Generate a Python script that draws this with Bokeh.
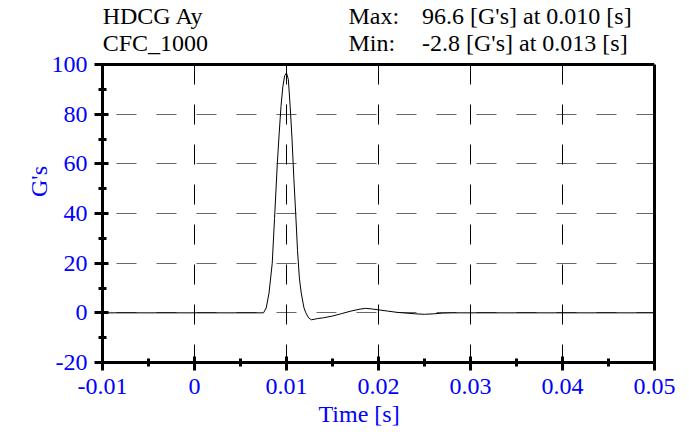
from bokeh.plotting import figure
from bokeh.models import Label, FixedTicker, Range1d, LinearAxis, Span, Title
from bokeh.embed import file_html
from bokeh.resources import INLINE

# ---- data ----
time_s = [-0.0100, 0.0075, 0.0078, 0.0081, 0.00845, 0.0087, 0.0090, 0.0092, 0.0094,
          0.0096, 0.0098, 0.0100, 0.0102, 0.0104, 0.0106, 0.0108, 0.0110, 0.0112,
          0.0114, 0.0116, 0.0119, 0.0121, 0.0124, 0.0127, 0.0130, 0.0134, 0.0140,
          0.0150, 0.0160, 0.0170, 0.0180, 0.0186, 0.0192, 0.0200, 0.0210, 0.0220,
          0.0230, 0.0240, 0.0250, 0.0260, 0.0270, 0.0280, 0.0500]
accel_g = [0.0, 0.0, 2.0, 8.0, 20.0, 38.0, 60.0, 72.0, 83.0,
           91.0, 95.5, 96.6, 94.0, 83.0, 70.0, 54.0, 40.0, 25.0,
           14.0, 8.0, 2.0, 0.0, -2.0, -2.8, -2.6, -2.3, -2.0,
           -1.3, -0.3, 0.7, 1.5, 1.8, 1.6, 1.2, 0.7, 0.2,
           -0.1, -0.4, -0.6, -0.4, -0.1, 0.0, 0.0]

x_ticks = [-0.01, 0, 0.01, 0.02, 0.03, 0.04, 0.05]
x_tick_labels = ["-0.01", "0", "0.01", "0.02", "0.03", "0.04", "0.05"]
x_minor = [-0.005, 0.005, 0.015, 0.025, 0.035, 0.045]
y_ticks = [-20, 0, 20, 40, 60, 80, 100]
y_tick_labels = ["-20", "0", "20", "40", "60", "80", "100"]
y_minor = [-10, 10, 30, 50, 70, 90]

header_left = ["HDCG Ay", "CFC_1000"]
header_keys = ["Max:", "Min:"]
header_vals = ["96.6 [G's] at 0.010 [s]", "-2.8 [G's] at 0.013 [s]"]
x_title = "Time [s]"
y_title = "G's"

# ---- layout ----
W, H = 689, 436
L, R, B = 102, 35, 74
BOX_TOP = 64                      # pixel row of the y = 100 border
X0, X1, Y0, Y1 = -0.01, 0.05, -20, 100
FW, FH = W - L - R, H - B         # frame reaches the top of the canvas
Y_TOP = Y1 + BOX_TOP / (FH - BOX_TOP) * (Y1 - Y0)
FONT = "Liberation Serif"
BLUE = "#0000FF"

def dx(px):
    return X0 + (px - L) / FW * (X1 - X0)

def dy(py):
    return Y_TOP - py / FH * (Y_TOP - Y0)

p = figure(width=W, height=H, x_range=Range1d(X0, X1), y_range=Range1d(Y0, Y_TOP),
           output_backend="svg", toolbar_location=None,
           min_border_left=L, min_border_right=R, min_border_top=0, min_border_bottom=B)
p.background_fill_color = "white"
p.border_fill_color = "white"
p.outline_line_color = None

p.xaxis.ticker = FixedTicker(ticks=x_ticks, minor_ticks=x_minor)
p.yaxis.ticker = FixedTicker(ticks=y_ticks, minor_ticks=y_minor)
p.xaxis.major_label_overrides = dict(zip(x_ticks, x_tick_labels))
p.yaxis.major_label_overrides = dict(zip(y_ticks, y_tick_labels))
p.yaxis.bounds = (Y0, Y1)

for ax in (p.xaxis, p.yaxis):
    ax.axis_line_color = "black"
    ax.axis_line_width = 3
    ax.major_tick_line_color = "black"
    ax.major_tick_line_width = 3
    ax.minor_tick_line_color = "black"
    ax.minor_tick_line_width = 3
    ax.major_tick_in = 6
    ax.major_tick_out = 8
    ax.minor_tick_in = 4
    ax.minor_tick_out = 4
    ax.major_label_text_font = FONT
    ax.major_label_text_font_size = "24px"
    ax.major_label_text_color = BLUE
    ax.axis_label_text_font = FONT
    ax.axis_label_text_font_size = "24px"
    ax.axis_label_text_color = BLUE
    ax.axis_label_text_font_style = "normal"

p.xaxis.major_label_standoff = 8
p.yaxis.major_label_standoff = 7
p.yaxis.axis_label = y_title
p.yaxis.axis_label_standoff = -3

# x axis title, placed left of centre as in the reference
p.add_layout(Title(text=x_title, align="left", offset=216, standoff=4,
                   text_font=FONT, text_font_size="24px", text_color=BLUE,
                   text_font_style="normal"), "below")

# right border of the plot box
right = LinearAxis(ticker=FixedTicker(ticks=[]), bounds=(Y0, Y1),
                   axis_line_color="black", axis_line_width=3,
                   major_tick_line_color=None, minor_tick_line_color=None)
p.add_layout(right, "right")
# top border of the plot box
p.add_layout(Span(location=Y1, dimension="width", line_color="black", line_width=3))

# grid
p.xgrid.visible = False
p.ygrid.ticker = FixedTicker(ticks=y_ticks[1:-1])
p.ygrid.grid_line_color = "#666666"
p.ygrid.grid_line_width = 1
p.ygrid.grid_line_dash = "20 20"
p.ygrid.grid_line_dash_offset = 26
inner_x = x_ticks[1:-1]
p.segment(x0=inner_x, y0=[Y0] * len(inner_x), x1=inner_x, y1=[Y1] * len(inner_x),
          line_color="black", line_width=1, line_dash="20 20", line_dash_offset=2)

p.line(time_s, accel_g, line_color="black", line_width=1)

# header texts
rows_baseline = [15, 42]
for i in range(2):
    for xpos, txt in ((102.2, header_left[i]), (348, header_keys[i]), (421.5, header_vals[i])):
        p.add_layout(Label(x=dx(xpos), y=dy(rows_baseline[i]), text=txt,
                           text_font=FONT, text_font_size="24px", text_color="black",
                           text_baseline="alphabetic", text_align="left"))

open("out.html", "w").write(file_html(p, INLINE))
